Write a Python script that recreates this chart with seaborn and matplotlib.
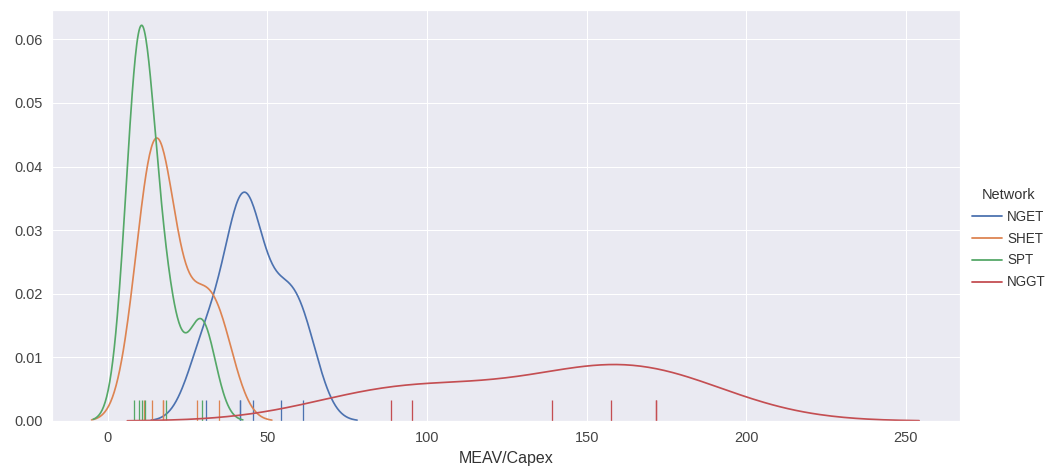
import numpy as np
import pandas as pd
import matplotlib
matplotlib.use("Agg")
import matplotlib.pyplot as plt
import seaborn as sns

networks = ["NGET", "SHET", "SPT", "NGGT"]
nget = [30.7, 41.4, 41.4, 45.4, 54.3, 61.0]
shet = [11.4, 13.7, 17.3, 17.3, 28.0, 34.9]
spt = [8.3, 9.8, 10.8, 11.6, 18.3, 29.4]
nggt = [88.6, 95.2, 139.1, 157.6, 171.7, 171.7]
# kernel bandwidths (in data units) per network
bandwidths = {"NGET": 5.7, "SHET": 5.5, "SPT": 4.3, "NGGT": 27.5}

xticks = [0, 50, 100, 150, 200, 250]
yticks = [0.00, 0.01, 0.02, 0.03, 0.04, 0.05, 0.06]

df = pd.DataFrame({
    "Network": (["NGET"] * len(nget) + ["SHET"] * len(shet)
                + ["SPT"] * len(spt) + ["NGGT"] * len(nggt)),
    "MEAV/Capex": nget + shet + spt + nggt,
})

sns.set_theme(style="darkgrid", context="notebook")
plt.rcParams["font.family"] = ["Liberation Sans", "DejaVu Sans"]

fig = plt.figure(figsize=(1058 / 72, 466 / 72), dpi=72)
ax = fig.add_axes([52 / 1058, 1 - 421 / 466, (960 - 52) / 1058, (421 - 10) / 466])

palette = sns.color_palette("deep", 4)
handles = []
for name, col in zip(networks, palette):
    sub = df[df["Network"] == name]
    vals = sub["MEAV/Capex"].to_numpy()
    bw = bandwidths[name] / np.std(vals, ddof=1)
    sns.kdeplot(data=sub, x="MEAV/Capex", ax=ax, color=col, bw_method=bw,
                cut=3, linewidth=1.7, label=name)
    sns.rugplot(data=sub, x="MEAV/Capex", ax=ax, color=col, height=0.05,
                linewidth=1.3)
    handles.append(plt.Line2D([], [], color=col, linewidth=1.8))

ax.set_xlim(-17.5, 267)
ax.set_ylim(0, 0.0646)
ax.set_xticks(xticks)
ax.set_yticks(yticks)
ax.set_yticklabels([f"{t:.2f}" for t in yticks])
ax.tick_params(axis="both", labelsize=14.5, colors="#444444")
ax.set_ylabel("")
ax.set_xlabel("MEAV/Capex", fontsize=16, color="#333333", labelpad=7)

leg = fig.legend(handles, networks, title="Network", loc="center right",
                 bbox_to_anchor=(1.0, 0.488), frameon=False, fontsize=13.5,
                 title_fontsize=14.5, handlelength=2.2, labelspacing=0.58,
                 handletextpad=0.4)
for t in leg.get_texts():
    t.set_color("#333333")
leg.get_title().set_color("#333333")

fig.savefig("out.png", dpi=72)
